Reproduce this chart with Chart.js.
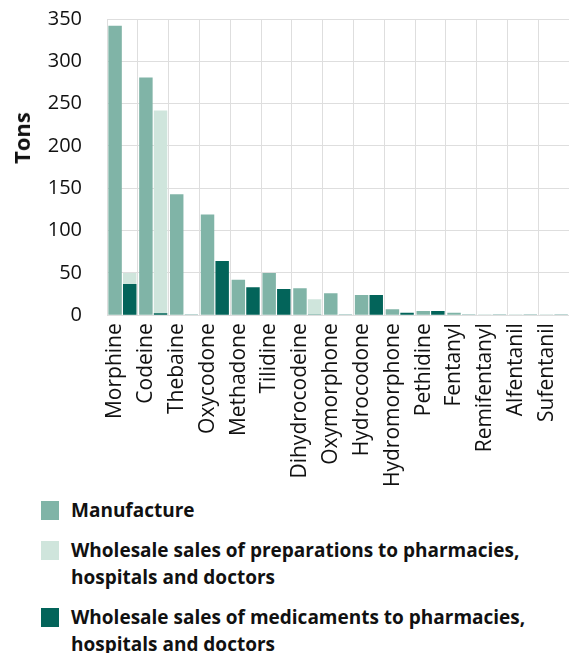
<!DOCTYPE html>
<html>
<head>
<meta charset="utf-8">
<script src="https://cdn.jsdelivr.net/npm/chart.js@4"></script>
<style>
  html, body { margin: 0; padding: 0; background: #fff; }
  body { width: 569px; height: 653px; overflow: hidden; position: relative; font-family: "Open Sans", sans-serif; color: #111; }
  #chart-box { position: absolute; left: 0; top: -18px; width: 587px; height: 513px; }
  #y-title { position: absolute; left: 21px; top: 138px; transform: translate(-50%, -50%) rotate(-90deg); font-weight: bold; font-size: 22px; white-space: nowrap; }
  #legend { position: absolute; left: 41px; top: 497px; width: 528px; }
  .leg-item { display: flex; align-items: flex-start; margin-bottom: 13px; }
  .leg-box { width: 18px; height: 19px; flex: none; margin-top: 4px; }
  .leg-text { margin-left: 12px; font-weight: bold; font-size: 19px; line-height: 27px; }
</style>
</head>
<body>
<div id="chart-box"><canvas id="opioidChart"></canvas></div>
<div id="y-title">Tons</div>
<div id="legend"></div>

<script>
// Chart data (tons)
const categories = ['Morphine', 'Codeine', 'Thebaine', 'Oxycodone', 'Methadone', 'Tilidine',
    'Dihydrocodeine', 'Oxymorphone', 'Hydrocodone', 'Hydromorphone', 'Pethidine', 'Fentanyl',
    'Remifentanyl', 'Alfentanil', 'Sufentanil'];
const manufacture = [342, 281, 143, 119, 42, 50, 32, 26, 24, 7, 5, 3, 1, 1, 1];
const preparations = [50, 242, 0, 0, 0, 0, 19, 0, 0, 0, 0, 0, 0, 0, 0];
const medicaments = [37, 2.5, 1, 64, 33, 31, 1, 1, 24, 3, 5, 1, 1, 1, 1];
const yTicks = [0, 50, 100, 150, 200, 250, 300, 350];

const seriesNames = [
    'Manufacture',
    'Wholesale sales of preparations to pharmacies, hospitals and doctors',
    'Wholesale sales of medicaments to pharmacies, hospitals and doctors'
];
const COLORS = ['#80b4a7', '#cfe5dc', '#03645a'];

const FONT = '"Open Sans", sans-serif';

function init() {
    const ctx = document.getElementById('opioidChart').getContext('2d');
    new Chart(ctx, {
        type: 'bar',
        data: {
            labels: categories,
            datasets: [
                // manufacture gets the first slot; the two wholesale series share the second one,
                // medicaments listed before preparations so it is drawn on top
                { label: seriesNames[0], data: manufacture, backgroundColor: COLORS[0], stack: 'a' },
                { label: seriesNames[2], data: medicaments, backgroundColor: COLORS[2], stack: 'b' },
                { label: seriesNames[1], data: preparations, backgroundColor: COLORS[1], stack: 'b' }
            ]
        },
        options: {
            responsive: true,
            maintainAspectRatio: false,
            animation: false,
            layout: { padding: 0 },
            datasets: { bar: { categoryPercentage: 0.95, barPercentage: 0.92 } },
            scales: {
                x: {
                    stacked: true,
                    grid: { color: '#dedede', drawTicks: false, offset: true },
                    border: { color: '#dedede' },
                    ticks: {
                        minRotation: 90, maxRotation: 90, autoSkip: false,
                        padding: 8, labelOffset: -7,
                        color: '#111', font: { family: FONT, size: 21 }
                    }
                },
                y: {
                    stacked: false,
                    min: 0, max: 350,
                    afterBuildTicks: s => { s.ticks = yTicks.map(v => ({ value: v })); },
                    afterFit: s => { s.width = 107; },
                    grid: { color: '#dedede', drawTicks: false },
                    border: { color: '#dedede' },
                    ticks: { padding: 25, color: '#111', font: { family: FONT, size: 20 } }
                }
            },
            plugins: { legend: { display: false }, tooltip: { enabled: false } }
        }
    });

    // HTML legend (labels wrap over two lines)
    const legend = document.getElementById('legend');
    seriesNames.forEach((name, i) => {
        const item = document.createElement('div');
        item.className = 'leg-item';
        item.innerHTML = `<div class="leg-box" style="background:${COLORS[i]}"></div><div class="leg-text">${name}</div>`;
        legend.appendChild(item);
    });
}

window.addEventListener('DOMContentLoaded', init);
</script>
</body>
</html>
